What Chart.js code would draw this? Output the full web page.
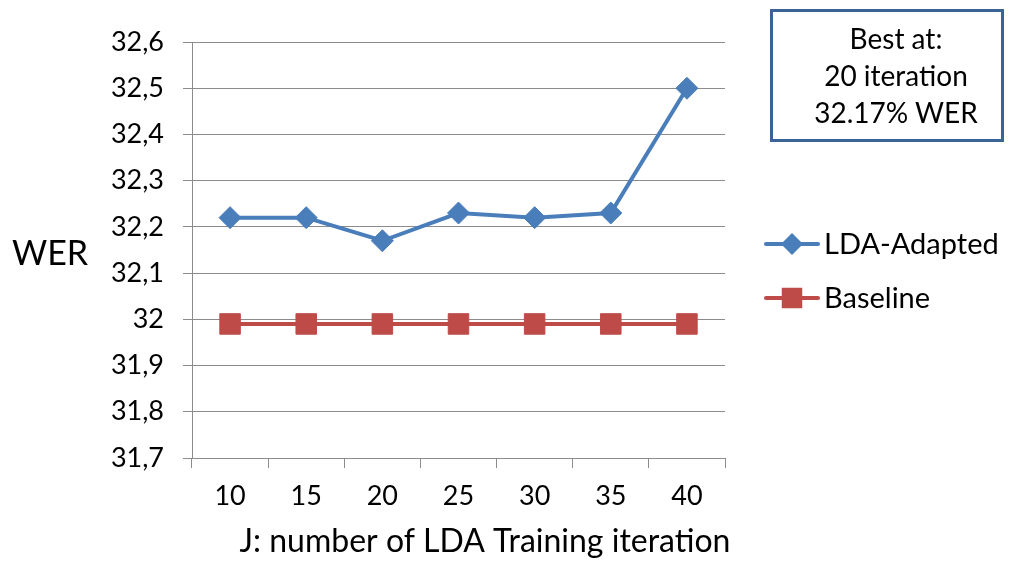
<!DOCTYPE html>
<html>
<head>
<meta charset="utf-8">
<script src="https://cdn.jsdelivr.net/npm/chart.js@4/dist/chart.umd.min.js"></script>
<style>
  html, body { margin: 0; padding: 0; background: #fff; }
  #wrap { position: relative; width: 1019px; height: 561px; }
  #bestBox {
    position: absolute; left: 770px; top: 9px; width: 210px; height: 127px;
    border: 3.5px solid #3c6396; box-sizing: content-box;
    font-family: Lato, sans-serif; font-size: 28px; line-height: 37px;
    text-align: center; color: #000; padding-left: 18px;
    display: flex; flex-direction: column; justify-content: center;
  }
</style>
</head>
<body>
<div id="wrap">
  <canvas id="werChart" width="1019" height="561"></canvas>
  <div id="bestBox"><div>Best at:</div><div>20 iteration</div><div>32.17% WER</div></div>
</div>
<script>
// ---------- DATA ----------
const iterations = ["10", "15", "20", "25", "30", "35", "40"];
const ldaAdapted = [32.22, 32.22, 32.17, 32.23, 32.22, 32.23, 32.5];
const baseline = [31.99, 31.99, 31.99, 31.99, 31.99, 31.99, 31.99];
const yMin = 31.7, yMax = 32.6, yStep = 0.1;

const BLUE = "#4a7ebb";
const RED = "#be4b48";
const GRID = "#8c8c8c";
const FONT = "Lato, sans-serif";

// comma decimals, no trailing ",0"
function fmtTick(v) {
  return String(Number(v.toFixed(1))).replace(".", ",");
}

// legend + axis titles drawn straight on the canvas
const extrasPlugin = {
  id: "extras",
  afterDraw(chart) {
    const ctx = chart.ctx;
    ctx.save();
    ctx.fillStyle = "#000";
    ctx.textBaseline = "middle";

    ctx.font = "34px " + FONT;
    ctx.textAlign = "left";
    ctx.fillText("WER", 12, 254);

    ctx.font = "32px " + FONT;
    ctx.textAlign = "center";
    ctx.fillText("J: number of LDA Training iteration", 485, 542);

    const rows = [244, 298];
    chart.data.datasets.forEach((ds, i) => {
      const y = rows[i];
      ctx.strokeStyle = ds.borderColor;
      ctx.lineWidth = 4;
      ctx.lineCap = "round";
      ctx.beginPath();
      ctx.moveTo(766, y);
      ctx.lineTo(818, y);
      ctx.stroke();
      ctx.fillStyle = ds.pointBackgroundColor;
      Chart.helpers.drawPoint(ctx, { pointStyle: ds.pointStyle, rotation: 0, radius: ds.pointRadius }, 792, y);
      ctx.fillStyle = "#000";
      ctx.font = "29px " + FONT;
      ctx.textAlign = "left";
      ctx.fillText(ds.label, 824, y + 1);
    });
    ctx.restore();
  }
};

new Chart(document.getElementById("werChart"), {
  type: "line",
  data: {
    labels: iterations,
    datasets: [
      {
        label: "LDA-Adapted",
        data: ldaAdapted,
        borderColor: BLUE,
        backgroundColor: BLUE,
        pointBackgroundColor: BLUE,
        pointBorderColor: BLUE,
        pointStyle: "rectRot",
        pointRadius: 11,
        pointBorderWidth: 1,
        borderWidth: 4,
        tension: 0
      },
      {
        label: "Baseline",
        data: baseline,
        borderColor: RED,
        backgroundColor: RED,
        pointBackgroundColor: RED,
        pointBorderColor: RED,
        pointStyle: "rect",
        pointRadius: 14.5,
        pointBorderWidth: 1,
        borderWidth: 4,
        tension: 0
      }
    ]
  },
  options: {
    responsive: false,
    animation: false,
    layout: { padding: { top: 42, right: 294, left: 0, bottom: 0 } },
    plugins: {
      legend: { display: false },
      tooltip: { enabled: false }
    },
    scales: {
      x: {
        offset: true,
        grid: { offset: true, drawOnChartArea: false, drawTicks: true, tickLength: 10, color: GRID },
        border: { display: true, color: GRID, width: 1 },
        ticks: { color: "#000", font: { family: FONT, size: 27 }, padding: 12, maxRotation: 0 },
        afterFit(scale) { scale.height = 103; }
      },
      y: {
        min: yMin,
        max: yMax,
        grid: { color: GRID, lineWidth: 1, tickLength: 9 },
        border: { display: true, color: GRID, width: 1 },
        ticks: {
          stepSize: yStep,
          color: "#000",
          font: { family: FONT, size: 27 },
          padding: 19,
          callback: (v) => fmtTick(v)
        },
        afterFit(scale) { scale.width = 192; }
      }
    }
  },
  plugins: [extrasPlugin]
});
</script>
</body>
</html>
